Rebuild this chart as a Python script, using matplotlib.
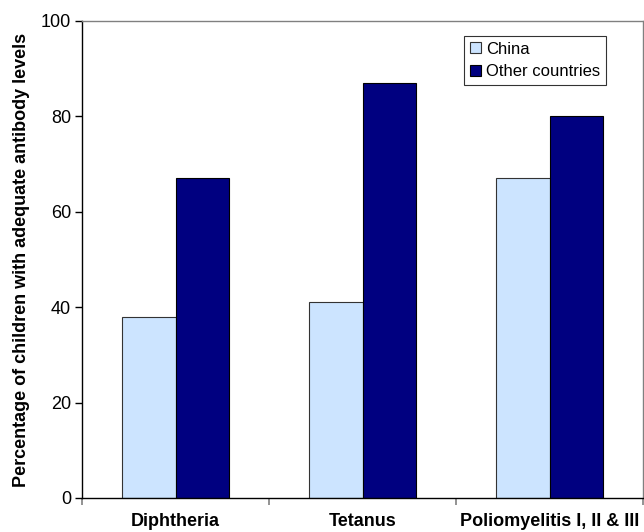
import matplotlib
matplotlib.use('Agg')
import matplotlib.pyplot as plt
import numpy as np

# Données
categories = ['Diphtheria', 'Tetanus', 'Poliomyelitis I, II & III']
china = [38, 41, 67]
other_countries = [67, 87, 80]
y_ticks = [0, 20, 40, 60, 80, 100]

plt.rcParams['font.family'] = ['Liberation Sans', 'DejaVu Sans']

fig = plt.figure(figsize=(6.44, 5.32), dpi=100)
ax = fig.add_axes([82 / 644, (532 - 498) / 532, 561 / 644, 477 / 532])

x = np.arange(len(categories))
w = 0.2857
ax.bar(x - w / 2, china, width=w, color='#CCE4FF', edgecolor='#333333',
       linewidth=0.8, label='China')
ax.bar(x + w / 2, other_countries, width=w, color='#000080', edgecolor='#000000',
       linewidth=0.8, label='Other countries')

ax.set_xlim(-0.5, len(categories) - 0.5)
ax.set_ylim(0, 100)
ax.set_yticks(y_ticks)
ax.tick_params(axis='y', labelsize=13, length=5, width=1, pad=3)

ax.set_xticks(x)
ax.set_xticklabels(categories, fontsize=13, fontweight='bold')
ax.tick_params(axis='x', length=0, pad=11)
ax.set_xticks(np.arange(len(categories) + 1) - 0.5, minor=True)
ax.tick_params(axis='x', which='minor', length=5, width=1.2, color='#808080')

ax.set_ylabel('Percentage of children with adequate antibody levels',
              fontsize=13, fontweight='bold', labelpad=8)

for side in ['top', 'right']:
    ax.spines[side].set_color('#808080')
    ax.spines[side].set_linewidth(1)
for side in ['left', 'bottom']:
    ax.spines[side].set_color('black')
    ax.spines[side].set_linewidth(1)

leg = ax.legend(loc='upper right', bbox_to_anchor=(0.934, 0.969), fontsize=12,
                frameon=True, fancybox=False, edgecolor='black',
                handlelength=0.65, handleheight=0.65, handletextpad=0.3,
                borderpad=0.35, labelspacing=0.45, borderaxespad=0)
leg.get_frame().set_linewidth(0.8)

fig.savefig('out.png', dpi=100)
